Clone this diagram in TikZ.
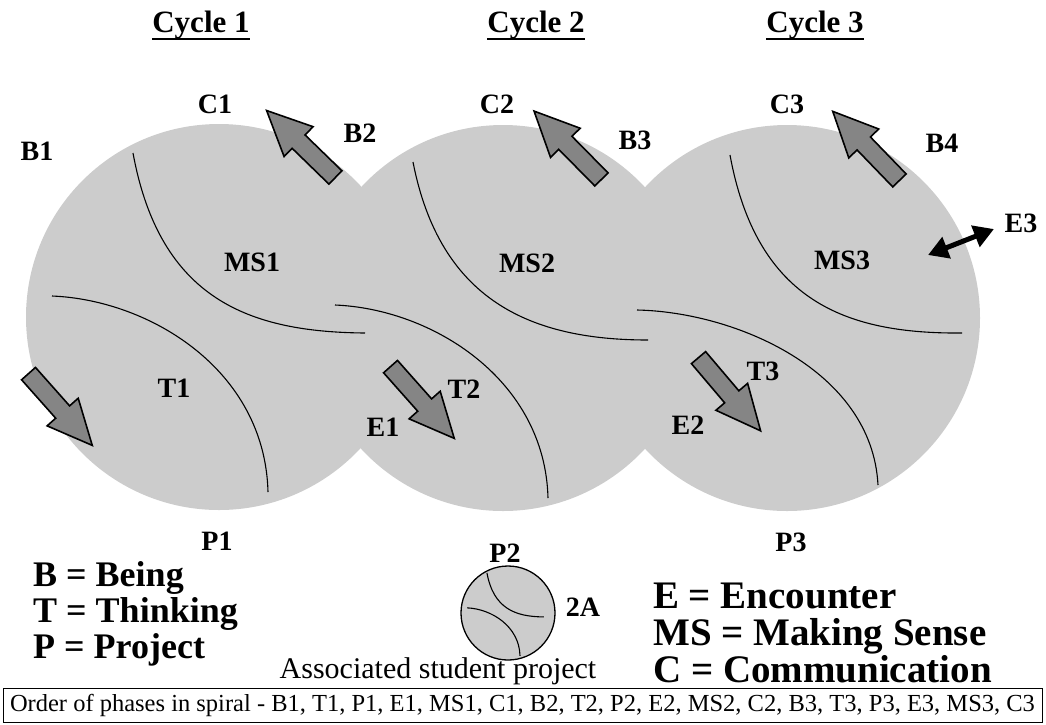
\documentclass[tikz,border=0pt]{standalone}
\usepackage{fontspec}
\setmainfont{Liberation Serif}
\usetikzlibrary{shapes.arrows,arrows.meta,calc}
\definecolor{stipple}{gray}{0.80}
\definecolor{hatch}{gray}{0.52}
\tikzset{
  lbl/.style={font=\bfseries\fontsize{28}{30}\selectfont, inner sep=0pt},
  cycletitle/.style={font=\bfseries\fontsize{31}{33}\selectfont, inner sep=0pt, anchor=base},
  keyline/.style={font=\bfseries\fontsize{36}{37}\selectfont, inner sep=0pt, anchor=base west},
  keylinewide/.style={keyline, font=\bfseries\fontsize{39}{40}\selectfont},
  phase/.style={fill=stipple},
  divider/.style={line width=1.1pt},
  blockarrow/.style={single arrow, draw, fill=hatch, line width=1.6pt,
    minimum height=96pt, inner xsep=0pt, inner ysep=8.5pt,
    single arrow head extend=11.5pt, single arrow tip angle=50, anchor=tail},
}
\begin{document}
\begin{tikzpicture}[x=1pt,y=-1pt]
\useasboundingbox (0,0) rectangle (1046,724);

% three overlapping cycles
\fill[phase] (219,317) circle[radius=193pt];
\fill[phase] (503,318) circle[radius=193pt];
\fill[phase] (787,318) circle[radius=193pt];

% phase boundaries in each cycle
\draw[divider] (133,153) .. controls (160,300) and (250,332) .. (365,333);
\draw[divider] (52,296) .. controls (150,300) and (265,370) .. (268,492);
\draw[divider] (413,162) .. controls (440,300) and (530,340) .. (648,340);
\draw[divider] (335,305) .. controls (433,309) and (545,380) .. (548,498);
\draw[divider] (730,155) .. controls (757,302) and (847,334) .. (962,333);
\draw[divider] (637,310) .. controls (735,312) and (872,370) .. (878,485);

% movement arrows
\node[blockarrow, rotate=-48.4] (arB1) at (28,373) {};
\node[blockarrow, rotate=135.8] (arB2) at (336,178) {};
\node[blockarrow, rotate=134.6] (arB3) at (602,180) {};
\node[blockarrow, rotate=134] (arB4) at (900,181) {};
\node[blockarrow, rotate=-48.4] (arE1) at (390,366) {};
\node[blockarrow, rotate=-49.7] (arE2) at (698,357) {};

% two-way encounter arrow
\coordinate (e3in) at (928,255);
\coordinate (e3out) at (994,229);
\draw[line width=5pt, {Triangle[length=20pt,width=22pt]}-{Triangle[length=20pt,width=22pt]}] (e3in) -- (e3out);

% cycle titles
\node[cycletitle] (cyc1) at (201,32) {Cycle 1};
\node[cycletitle] (cyc2) at (536,32) {Cycle 2};
\node[cycletitle] (cyc3) at (815,32) {Cycle 3};
\foreach \c in {cyc1,cyc2,cyc3}
  \draw[line width=2.5pt] ($(\c.base west)+(0,7)$) -- ($(\c.base east)+(0,7)$);

% phase labels
\node[lbl] (B1) at (37,151) {B1};
\node[lbl] (C1) at (215,104) {C1};
\node[lbl] (B2) at (360,133) {B2};
\node[lbl] (C2) at (497,104) {C2};
\node[lbl] (B3) at (635,140) {B3};
\node[lbl] (C3) at (787,104) {C3};
\node[lbl] (B4) at (942,143) {B4};
\node[lbl] (E3) at (1021,223) {E3};
\node[lbl] (MS1) at (252,262) {MS1};
\node[lbl] (MS2) at (527,263) {MS2};
\node[lbl] (MS3) at (842,260) {MS3};
\node[lbl] (T1) at (174,388) {T1};
\node[lbl] (T2) at (464,389) {T2};
\node[lbl] (T3) at (763,371) {T3};
\node[lbl] (E1) at (383,427) {E1};
\node[lbl] (E2) at (688,425) {E2};
\node[lbl] (P1) at (217,541) {P1};
\node[lbl] (P2) at (505,553) {P2};
\node[lbl] (P3) at (791,542) {P3};

% associated student project
\filldraw[fill=stipple, line width=1.3pt] (508,613) circle[radius=47pt];
\begin{scope}[shift={(508,613)}, scale=0.245]
  \draw[divider] (-86,-164) .. controls (-59,-17) and (31,15) .. (146,16);
  \draw[divider] (-167,-21) .. controls (-69,-17) and (46,53) .. (49,175);
\end{scope}
\node[lbl] (A2) at (583,607) {2A};
\node[font=\fontsize{30}{32}\selectfont, inner sep=0pt, anchor=base] (assoc) at (438,678) {Associated student project};

% key
\node[keyline] (kB) at (33,586) {B = Being};
\node[keyline] (kT) at (33,622) {T = Thinking};
\node[keyline] (kP) at (33,658) {P = Project};
\node[keylinewide] (kE) at (653,608) {E = Encounter};
\node[keylinewide] (kMS) at (653,645) {MS = Making Sense};
\node[keylinewide] (kC) at (653,682) {C = Communication};

% order of phases
\node[draw, line width=1pt, inner sep=0pt, minimum width=1039pt, minimum height=34pt,
  font=\fontsize{24.5}{26}\selectfont] (order) at (522.5,705)
  {Order of phases in spiral - B1, T1, P1, E1, MS1, C1, B2, T2, P2, E2, MS2, C2, B3, T3, P3, E3, MS3, C3};
\end{tikzpicture}
\end{document}
